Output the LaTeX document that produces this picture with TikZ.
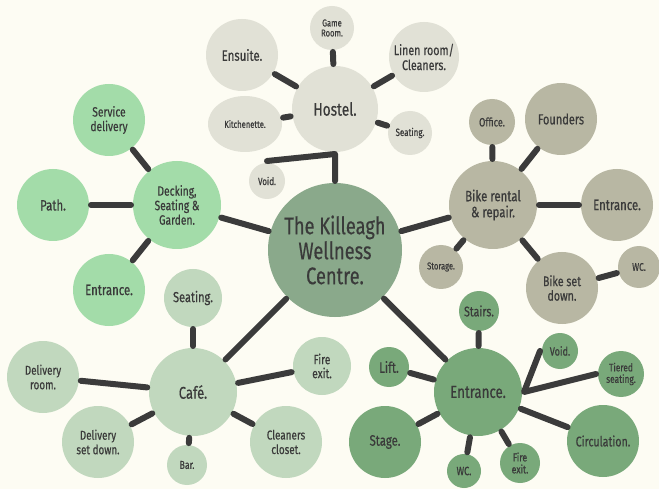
\documentclass[tikz,border=0pt]{standalone}
\usepackage{fontspec}
\setmainfont{Fira Sans}[FakeStretch=0.76,FakeBold=0.4]
\usetikzlibrary{shapes.geometric}
\definecolor{bgc}{HTML}{FDFCF3}
\definecolor{hostc}{HTML}{E1E1D6}
\definecolor{bikec}{HTML}{B8B7A3}
\definecolor{deckc}{HTML}{A3DCA9}
\definecolor{cafec}{HTML}{C1D8BE}
\definecolor{entc}{HTML}{79A97A}
\definecolor{cenc}{HTML}{8AA98B}
\definecolor{txtc}{HTML}{3A3A3A}
\definecolor{linec}{HTML}{3B3B3B}
\tikzset{
  bub/.style={circle, inner sep=0pt, outer sep=2pt, text=txtc, align=center, font=\fontsize{#1}{#1}\selectfont},
  conn/.style={draw=linec, line width=6pt, line cap=round, line join=round},
}
\begin{document}
\begin{tikzpicture}[x=1pt,y=-1pt]
\fill[bgc] (0,0) rectangle (659,489);
\useasboundingbox (0,0) rectangle (659,489);
% centre
\node[bub=24, fill=cenc, minimum size=134pt, font=\fontsize{24}{25}\selectfont] (centre) at (335,250) {The Killeagh\\Wellness\\Centre.};
% hostel group
\node[bub=18, fill=hostc, minimum size=86pt] (hostel) at (335,109) {Hostel.};
\node[bub=15, fill=hostc, minimum size=72pt] (ensuite) at (242,55) {Ensuite.};
\node[bub=10, fill=hostc, minimum size=44pt, font=\fontsize{10}{10}\selectfont] (game) at (332,28) {Game\\Room.};
\node[bub=14, fill=hostc, minimum size=70pt, font=\fontsize{14}{15}\selectfont] (linen) at (424,57) {Linen room/\\Cleaners.};
\node[ellipse, inner sep=0pt, outer sep=2pt, text=txtc, fill=hostc, minimum width=74pt, minimum height=56pt, font=\fontsize{10}{10}\selectfont] (kitch) at (245,124) {Kitchenette.};
\node[bub=10.5, fill=hostc, minimum size=44pt] (hseat) at (410,133) {Seating.};
\node[bub=10.5, fill=hostc, minimum size=36pt] (hvoid) at (267,181) {Void.};
% decking group
\node[bub=13, fill=deckc, minimum size=88pt, font=\fontsize{13.5}{14.5}\selectfont] (deck) at (177,205) {Decking,\\Seating \&\\Garden.};
\node[bub=13.5, fill=deckc, minimum size=72pt, font=\fontsize{13.5}{14.5}\selectfont] (serv) at (109,120) {Service\\delivery};
\node[bub=15, fill=deckc, minimum size=72pt] (path) at (53,205) {Path.};
\node[bub=15, fill=deckc, minimum size=72pt] (dent) at (109,290) {Entrance.};
% bike group
\node[bub=15, fill=bikec, minimum size=88pt, font=\fontsize{15}{16}\selectfont] (bike) at (493,205) {Bike rental\\\& repair.};
\node[bub=12, fill=bikec, minimum size=46pt] (office) at (492,122) {Office.};
\node[bub=14.5, fill=bikec, minimum size=72pt] (found) at (561,119) {Founders};
\node[bub=15, fill=bikec, minimum size=72pt] (bent) at (617,205) {Entrance.};
\node[bub=10, fill=bikec, minimum size=44pt] (stor) at (441,267) {Storage.};
\node[bub=14, fill=bikec, minimum size=72pt, font=\fontsize{14}{14.5}\selectfont] (setd) at (562,288) {Bike set\\down.};
\node[bub=11, fill=bikec, minimum size=42pt] (bwc) at (639,267) {WC.};
% cafe group
\node[bub=17, fill=cafec, minimum size=88pt] (cafe) at (193,392) {Café.};
\node[bub=14.5, fill=cafec, minimum size=58pt] (cseat) at (193,298) {Seating.};
\node[bub=13, fill=cafec, minimum size=72pt, font=\fontsize{13}{14.5}\selectfont] (delr) at (43,377) {Delivery\\room.};
\node[bub=13, fill=cafec, minimum size=72pt, font=\fontsize{13}{14.5}\selectfont] (dels) at (98,442) {Delivery\\set down.};
\node[bub=11.5, fill=cafec, minimum size=40pt] (bar) at (187,465) {Bar.};
\node[bub=13, fill=cafec, minimum size=72pt, font=\fontsize{13}{14.5}\selectfont] (clean) at (286,442) {Cleaners\\closet.};
\node[bub=13.5, fill=cafec, minimum size=58pt, font=\fontsize{13.5}{14}\selectfont] (cfire) at (322,366) {Fire\\exit.};
% entrance group
\node[bub=17.5, fill=entc, minimum size=88pt] (entr) at (478,392) {Entrance.};
\node[bub=14, fill=entc, minimum size=40pt] (stairs) at (479,311) {Stairs.};
\node[bub=15, fill=entc, minimum size=40pt] (lift) at (389,367) {Lift.};
\node[bub=15, fill=entc, minimum size=72pt] (stage) at (385,442) {Stage.};
\node[bub=12, fill=entc, minimum size=34pt] (ewc) at (464,471) {WC.};
\node[bub=11.5, fill=entc, minimum size=40pt, font=\fontsize{11.5}{12}\selectfont] (efire) at (520,463) {Fire\\exit.};
\node[bub=14, fill=entc, minimum size=72pt] (circ) at (603,441) {Circulation.};
\node[bub=12, fill=entc, minimum size=36pt] (evoid) at (560,351) {Void.};
\node[bub=11, fill=entc, minimum size=46pt, font=\fontsize{11}{11.5}\selectfont] (tier) at (621,374) {Tiered\\seating.};
% connectors
\draw[conn] (hostel) -- (ensuite);
\draw[conn] (hostel) -- (game);
\draw[conn] (hostel) -- (linen);
\draw[conn] (hostel) -- (kitch);
\draw[conn] (hostel) -- (hseat);
\draw[conn] (hvoid.north) -- (hostel.south) -- (centre);
\draw[conn] (deck) -- (serv);
\draw[conn] (deck) -- (path);
\draw[conn] (deck) -- (dent);
\draw[conn] (deck) -- (centre);
\draw[conn] (bike) -- (office);
\draw[conn] (bike) -- (found);
\draw[conn] (bike) -- (bent);
\draw[conn] (bike) -- (stor);
\draw[conn] (bike) -- (setd);
\draw[conn] (setd) -- (bwc);
\draw[conn] (bike) -- (centre);
\draw[conn] (cafe) -- (cseat);
\draw[conn] (cafe) -- (delr);
\draw[conn] (cafe) -- (dels);
\draw[conn] (cafe) -- (bar);
\draw[conn] (cafe) -- (clean);
\draw[conn] (cafe) -- (cfire);
\draw[conn] (cafe) -- (centre);
\draw[conn] (entr) -- (stairs);
\draw[conn] (entr) -- (lift);
\draw[conn] (entr) -- (stage);
\draw[conn] (entr) -- (ewc);
\draw[conn] (entr) -- (efire);
\draw[conn] (entr) -- (circ);
\draw[conn] (evoid.west) -- (entr.east) -- (tier.west);
\draw[conn] (entr) -- (centre);
\end{tikzpicture}
\end{document}
